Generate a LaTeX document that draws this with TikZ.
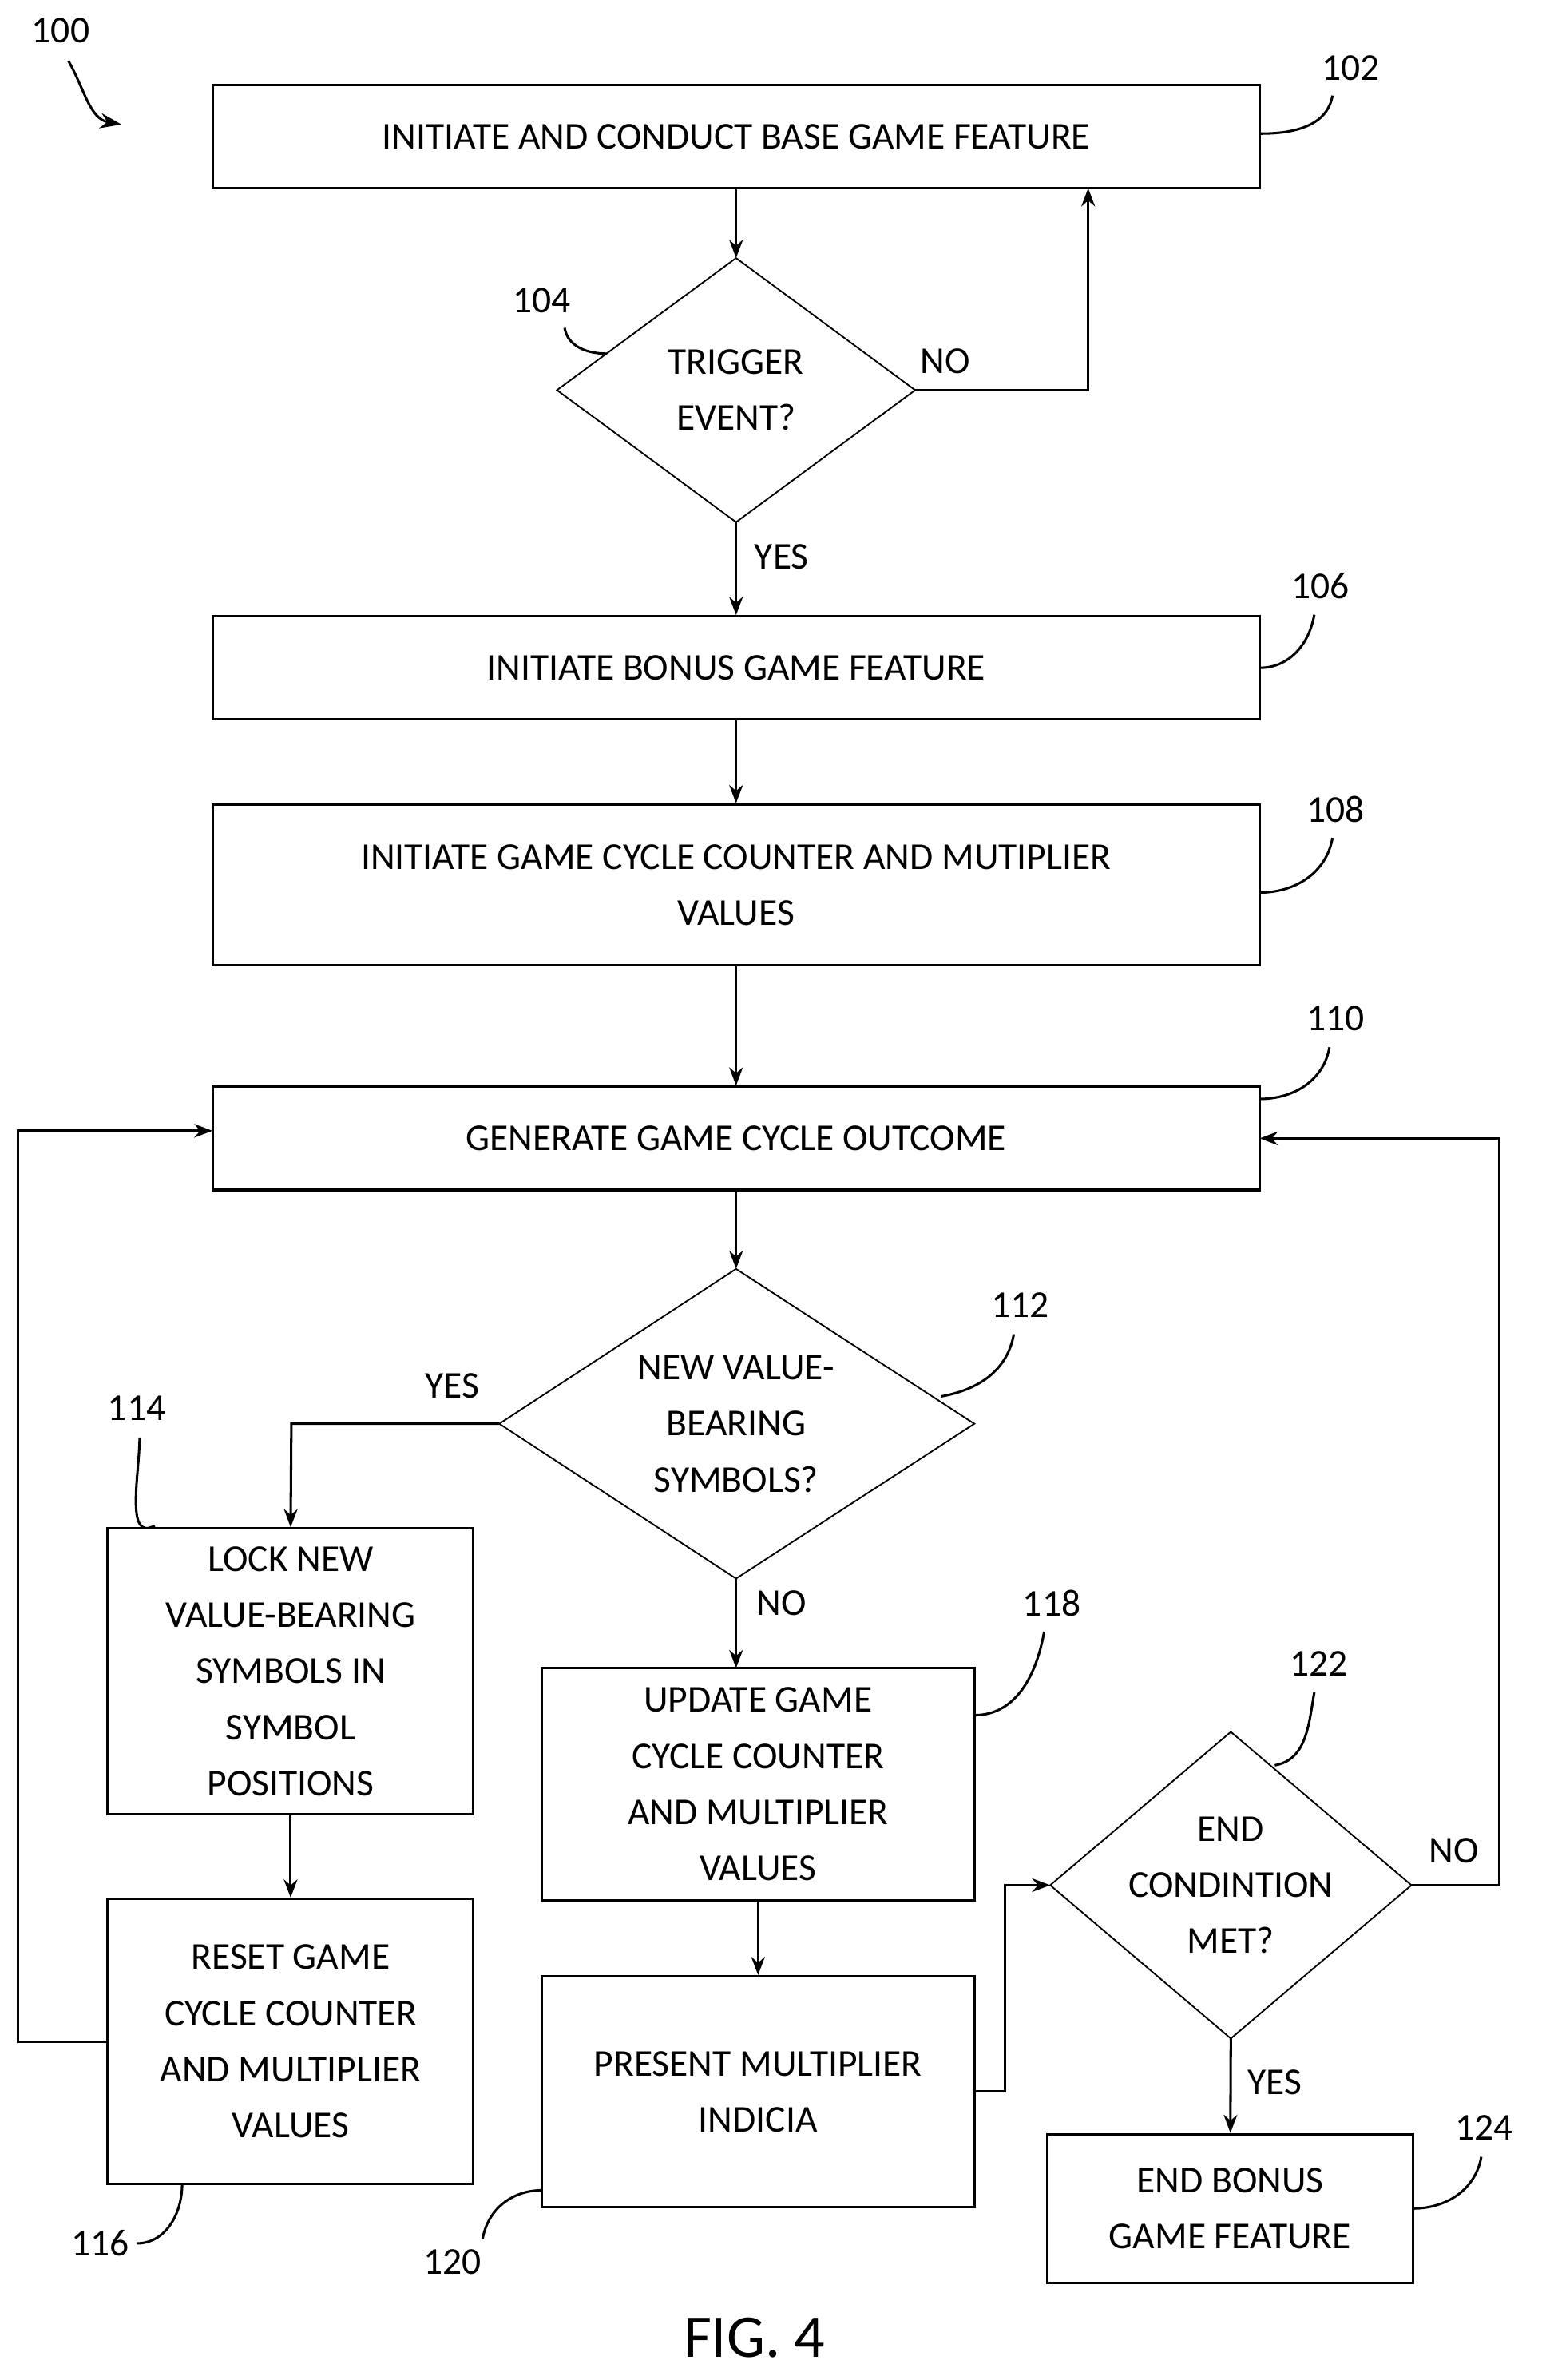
\documentclass[tikz,border=0pt]{standalone}
\usepackage{fontspec}
\setmainfont{Carlito}
\usetikzlibrary{arrows.meta}
\begin{document}
\begin{tikzpicture}[x=1pt,y=-1pt,
 box/.style={draw,line width=1.6pt,align=center,font=\fontsize{25}{37}\selectfont,inner sep=0},
 dia/.style={draw,line width=1pt},
 arr/.style={line width=1.6pt,-{Stealth[length=12pt,width=9pt]}},
 ln/.style={line width=1.6pt},
 lbl/.style={font=\fontsize{25}{30}\selectfont},
 ref/.style={font=\fontsize{25}{30}\selectfont},
 lead/.style={line width=1.6pt}]
\useasboundingbox (0,0) rectangle (1016,1568);
% boxes
\node[box,minimum width=690pt,minimum height=68pt] (b102) at (485,90) {INITIATE AND CONDUCT BASE GAME FEATURE};
\node[box,minimum width=690pt,minimum height=68pt] (b106) at (485,440) {INITIATE BONUS GAME FEATURE};
\node[box,minimum width=690pt,minimum height=106pt] (b108) at (485,583) {INITIATE GAME CYCLE COUNTER AND MUTIPLIER\\VALUES};
\node[box,minimum width=690pt,minimum height=68pt] (b110) at (485,750) {GENERATE GAME CYCLE OUTCOME};
\node[box,minimum width=241pt,minimum height=188pt] (b114) at (191.5,1101) {LOCK NEW\\VALUE-BEARING\\SYMBOLS IN\\SYMBOL\\POSITIONS};
\node[box,minimum width=241pt,minimum height=188pt] (b116) at (191.5,1345) {RESET GAME\\CYCLE COUNTER\\AND MULTIPLIER\\VALUES};
\node[box,minimum width=285pt,minimum height=153pt] (b118) at (499.5,1175.5) {UPDATE GAME\\CYCLE COUNTER\\AND MULTIPLIER\\VALUES};
\node[box,minimum width=285pt,minimum height=152pt] (b120) at (499.5,1378) {PRESENT MULTIPLIER\\INDICIA};
\node[box,minimum width=241pt,minimum height=98pt] (b124) at (810.5,1455) {END BONUS\\GAME FEATURE};
% diamonds
\coordinate (d104t) at (485,170); \coordinate (d104b) at (485,344);
\coordinate (d104l) at (367,257); \coordinate (d104r) at (603,257);
\draw[dia] (d104t)--(d104r)--(d104b)--(d104l)--cycle;
\node[box,draw=none] (t104) at (485,257) {TRIGGER\\EVENT?};
\coordinate (d112t) at (485,836); \coordinate (d112b) at (485,1040);
\coordinate (d112l) at (329,938); \coordinate (d112r) at (642,938);
\draw[dia] (d112t)--(d112r)--(d112b)--(d112l)--cycle;
\node[box,draw=none] (t112) at (485,938) {NEW VALUE-\\BEARING\\SYMBOLS?};
\coordinate (d122t) at (811,1141); \coordinate (d122b) at (811,1343);
\coordinate (d122l) at (692,1242); \coordinate (d122r) at (930,1242);
\draw[dia] (d122t)--(d122r)--(d122b)--(d122l)--cycle;
\node[box,draw=none] (t122) at (811,1242) {END\\CONDINTION\\MET?};
% connectors
\draw[arr] (b102) -- (d104t);
\draw[arr] (d104r) -- (717,257) -- (717,124);
\draw[arr] (d104b) -- (b106);
\draw[arr] (b106) -- (b108);
\draw[arr] (b108) -- (b110);
\draw[arr] (b110) -- (d112t);
\draw[arr] (d112l) -- (192,938) -- (b114.north);
\draw[arr] (d112b) -- (485,1099);
\draw[arr] (b114) -- (b116);
\draw[arr] (b116.west) -- (12,1345) -- (12,745) -- (140,745);
\draw[arr] (b118) -- (b120);
\draw[arr] (b120.east) -- (662,1378) -- (662,1242) -- (d122l);
\draw[arr] (d122r) -- (988,1242) -- (988,750) -- (830,750);
\draw[arr] (d122b) -- (b124);
% edge labels
\node[lbl] (n1) at (623,238) {NO};
\node[lbl] (y1) at (515,367) {YES};
\node[lbl] (y2) at (298,913) {YES};
\node[lbl] (n2) at (515,1056) {NO};
\node[lbl] (n3) at (958,1219) {NO};
\node[lbl] (y3) at (840,1372) {YES};
% reference numbers
\node[ref] (r100) at (40,20) {100};
\draw[lead,-{Stealth[length=14pt,width=10pt]}] (45,40) to[out=-60,in=170] (80,82);
\node[ref] (r102) at (890,45) {102};
\draw[lead] (b102.east|-0,88) to[out=0,in=-100] (878,63);
\node[ref] (r104) at (357,198) {104};
\draw[lead] (400,233) to[out=180,in=-80] (372,216);
\node[ref] (r106) at (870,386) {106};
\draw[lead] (830,440) to[out=0,in=-100] (866,405);
\node[ref] (r108) at (880,533) {108};
\draw[lead] (830,588) to[out=0,in=-100] (878,552);
\node[ref] (r110) at (880,671) {110};
\draw[lead] (830,724) to[out=0,in=-100] (876,690);
\node[ref] (r112) at (672,860) {112};
\draw[lead] (620,920) to[out=10,in=-100] (668,879);
\node[ref] (r114) at (90,928) {114};
\draw[lead] (102,1005) to[out=-150,in=-90] (92,947);
\node[ref] (r116) at (66,1478) {116};
\draw[lead] (120,1439) to[out=-90,in=0] (90,1478);
\node[ref] (r118) at (693,1056) {118};
\draw[lead] (642,1130) to[out=0,in=-100] (688,1075);
\node[ref] (r120) at (298,1490) {120};
\draw[lead] (357,1443) to[out=180,in=80] (318,1475);
\node[ref] (r122) at (869,1096) {122};
\draw[lead] (840,1163) to[out=10,in=-100] (866,1115);
\node[ref] (r124) at (978,1402) {124};
\draw[lead] (931,1455) to[out=0,in=-100] (976,1421);
\node[font=\fontsize{40}{48}\selectfont] (fig) at (497,1540) {FIG. 4};
\end{tikzpicture}
\end{document}
